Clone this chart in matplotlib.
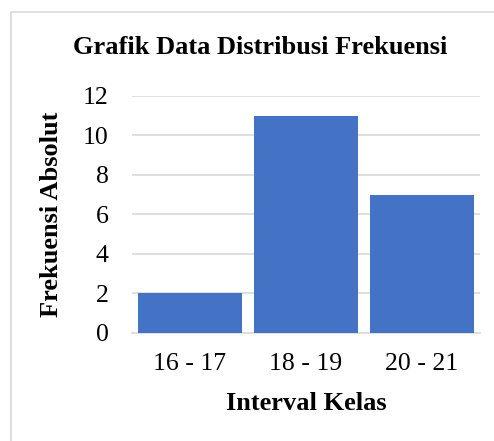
import matplotlib.pyplot as plt
from matplotlib.patches import Rectangle

kelas = ["16 - 17", "18 - 19", "20 - 21"]
frekuensi = [2, 11, 7]
yticks = [0, 2, 4, 6, 8, 10, 12]

plt.rcParams['font.family'] = ['Liberation Serif', 'DejaVu Serif']

fig = plt.figure(figsize=(4.94, 4.41), dpi=100)
ax = fig.add_axes([132/494, 1 - 332.5/441, 348/494, 236.5/441])

# frame around the whole chart, cut off at right and bottom
fig.patches.append(Rectangle((11/494, -0.1), 1.2, 1.1 - 12/441, transform=fig.transFigure,
                             fill=False, edgecolor='#d9d9d9', linewidth=1.2))

ax.bar(range(len(kelas)), frekuensi, width=0.9, color='#4472C4', zorder=3)
ax.set_xlim(-0.5, len(kelas) - 0.5)
ax.set_ylim(0, 12)
ax.set_yticks(yticks)
ax.set_xticks(range(len(kelas)))
ax.set_xticklabels(kelas)
ax.grid(axis='y', color='#d9d9d9', linewidth=1.2, zorder=0)
for s in ['top', 'right', 'left']:
    ax.spines[s].set_visible(False)
ax.spines['bottom'].set_color('#d9d9d9')
ax.spines['bottom'].set_linewidth(1.2)
ax.tick_params(length=0, labelsize=18.5)
ax.tick_params(axis='y', pad=17)
ax.tick_params(axis='x', pad=15)

ax.set_xlabel("Interval Kelas", fontsize=19, fontweight='bold', labelpad=12)
ax.set_ylabel("Frekuensi Absolut", fontsize=19, fontweight='bold', labelpad=14)
fig.text(260/494, 1 - 48/441, "Grafik Data Distribusi Frekuensi", fontsize=19,
         fontweight='bold', ha='center', va='center')

fig.savefig("out.png", dpi=100)
